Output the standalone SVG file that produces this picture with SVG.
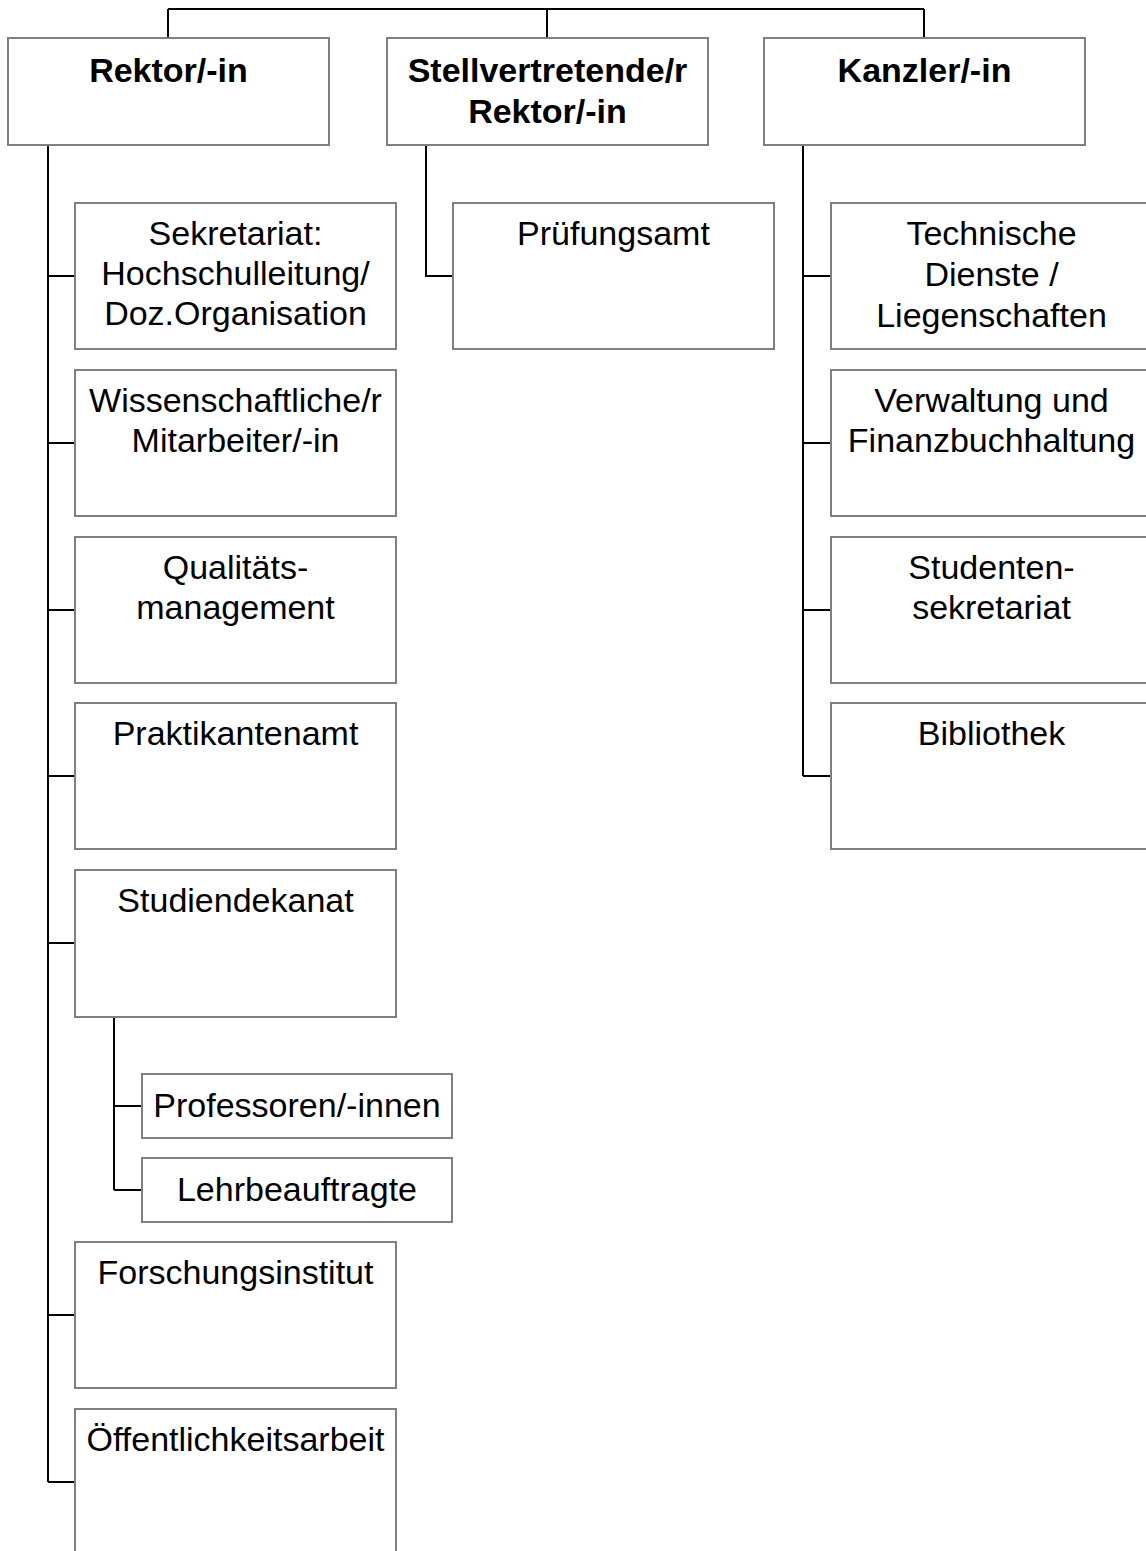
<svg xmlns="http://www.w3.org/2000/svg" width="1146" height="1551" viewBox="0 0 1146 1551">
<style>
.box{fill:#fff;stroke:#808080;stroke-width:2}
.con{fill:none;stroke:#000;stroke-width:2}
text{font-family:"Liberation Sans",Arial,sans-serif;font-size:34px;fill:#000;text-anchor:middle}
.b{font-weight:bold}
</style>
<rect width="1146" height="1551" fill="#fff"/>
<g id="connectors" class="con">
<path d="M168,9H924M168,9V38M547,9V38M924,9V38"/>
<path d="M48,145V1482M48,276H75M48,443H75M48,610H75M48,776H75M48,943H75M48,1315H75M48,1482H75"/>
<path d="M114,1017V1190M114,1106H142M114,1190H142"/>
<path d="M426,145V276H453"/>
<path d="M803,145V776M803,276H831M803,443H831M803,610H831M803,776H831"/>
</g>
<g id="rektor"><rect class="box" x="8" y="38" width="321" height="107"/><text class="b" x="168.5" y="82">Rektor/-in</text></g>
<g id="stellv"><rect class="box" x="387" y="38" width="321" height="107"/><text class="b" x="547.5" y="82">Stellvertretende/r</text><text class="b" x="547.5" y="123">Rektor/-in</text></g>
<g id="kanzler"><rect class="box" x="764" y="38" width="321" height="107"/><text class="b" x="924.5" y="82">Kanzler/-in</text></g>

<g id="sekretariat"><rect class="box" x="75" y="203" width="321" height="146"/><text x="235.5" y="245">Sekretariat:</text><text x="235.5" y="285">Hochschulleitung/</text><text x="235.5" y="325">Doz.Organisation</text></g>
<g id="wiss"><rect class="box" x="75" y="370" width="321" height="146"/><text x="235.5" y="412">Wissenschaftliche/r</text><text x="235.5" y="452">Mitarbeiter/-in</text></g>
<g id="qm"><rect class="box" x="75" y="537" width="321" height="146"/><text x="235.5" y="579">Qualitäts-</text><text x="235.5" y="619">management</text></g>
<g id="praktikantenamt"><rect class="box" x="75" y="703" width="321" height="146"/><text x="235.5" y="745">Praktikantenamt</text></g>
<g id="studiendekanat"><rect class="box" x="75" y="870" width="321" height="147"/><text x="235.5" y="912">Studiendekanat</text></g>
<g id="professoren"><rect class="box" x="142" y="1074" width="310" height="64"/><text x="297" y="1117">Professoren/-innen</text></g>
<g id="lehrbeauftragte"><rect class="box" x="142" y="1158" width="310" height="64"/><text x="297" y="1201">Lehrbeauftragte</text></g>
<g id="forschung"><rect class="box" x="75" y="1242" width="321" height="146"/><text x="235.5" y="1284">Forschungsinstitut</text></g>
<g id="oeffentlichkeit"><rect class="box" x="75" y="1409" width="321" height="146"/><text x="235.5" y="1451">Öffentlichkeitsarbeit</text></g>

<g id="pruefungsamt"><rect class="box" x="453" y="203" width="321" height="146"/><text x="613.5" y="245">Prüfungsamt</text></g>

<g id="technik"><rect class="box" x="831" y="203" width="321" height="146"/><text x="991.5" y="245">Technische</text><text x="991.5" y="286">Dienste /</text><text x="991.5" y="327">Liegenschaften</text></g>
<g id="verwaltung"><rect class="box" x="831" y="370" width="321" height="146"/><text x="991.5" y="412">Verwaltung und</text><text x="991.5" y="452">Finanzbuchhaltung</text></g>
<g id="studsek"><rect class="box" x="831" y="537" width="321" height="146"/><text x="991.5" y="579">Studenten-</text><text x="991.5" y="619">sekretariat</text></g>
<g id="bibliothek"><rect class="box" x="831" y="703" width="321" height="146"/><text x="991.5" y="745">Bibliothek</text></g>
</svg>
